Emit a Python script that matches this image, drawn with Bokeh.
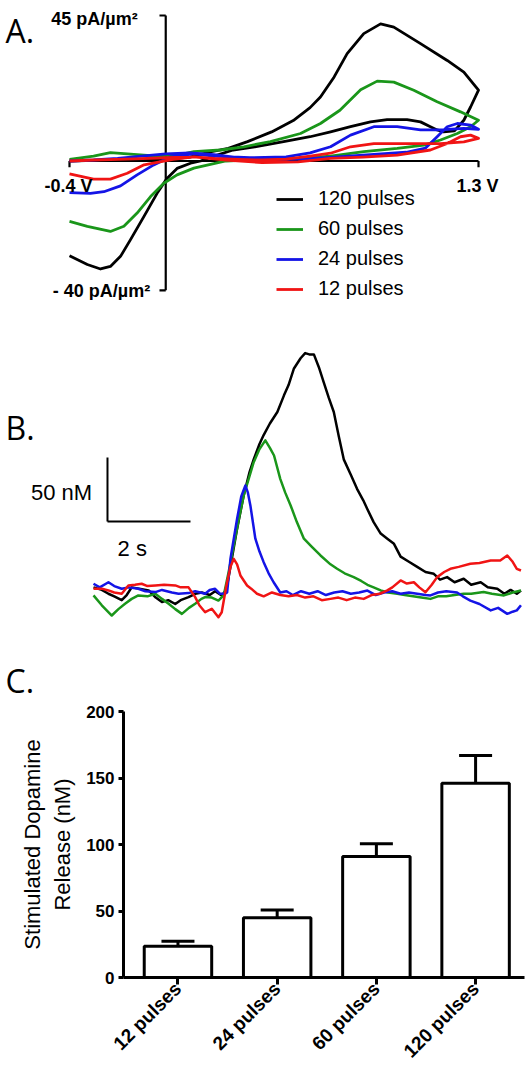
import math
from bokeh.plotting import figure
from bokeh.layouts import column
from bokeh.models import (Range1d, FixedTicker, Whisker, TeeHead, ColumnDataSource,
                          Legend, LegendItem)
from bokeh.core.properties import value
from bokeh.embed import file_html
from bokeh.resources import INLINE

FONT = "Liberation Sans"
LETTER_FONT = "Open Sans"

# ---------------- data ----------------
pulse_labels = ["120 pulses", "60 pulses", "24 pulses", "12 pulses"]
trace_colors = ["#000000", "#1a961a", "#1414e6", "#f01414"]

# Panel A: cyclic voltammograms (potential in V, current density in pA/um2)
cv_v_min, cv_v_max = -0.4, 1.3
cv_i_min, cv_i_max = -40, 45

cv120_v = [-0.4, -0.3, -0.2, -0.1, 0.0, 0.1, 0.19, 0.26, 0.34, 0.44, 0.53, 0.6, 0.643, 0.7, 0.754,
           0.823, 0.893, 0.948, 1.059, 1.17, 1.239, 1.3,
           1.267, 1.239, 1.2, 1.155, 1.128, 1.1, 1.059, 1.003, 0.92, 0.851, 0.768, 0.685, 0.6, 0.49,
           0.37, 0.28, 0.2, 0.145, 0.103, 0.047, 0.006, -0.036, -0.091, -0.147, -0.188, -0.23, -0.271,
           -0.326, -0.4]
cv120_i = [0.0, 0.2, 0.3, 0.3, 0.5, 1.2, 2.9, 3.9, 6.0, 9.0, 12.5, 16.5, 19.8, 26.0, 33.2,
           39.4, 42.4, 41.4, 36.3, 31.1, 27.5, 21.9,
           16.7, 12.6, 9.3, 9.0, 9.6, 10.6, 12.1, 12.8, 12.8, 12.1, 10.6, 9.0, 7.5, 6.0,
           4.4, 3.4, 1.5, 0.0, -0.7, -2.3, -5.3, -10.0, -17.2, -24.4, -29.5, -32.6, -33.4,
           -32.0, -29.3]

cv60_v = [-0.4, -0.3, -0.23, -0.16, -0.05, 0.05, 0.117, 0.228, 0.325, 0.435, 0.56, 0.643, 0.724,
          0.81, 0.879, 0.948, 1.031, 1.128, 1.225, 1.3,
          1.267, 1.212, 1.142, 1.073, 0.962, 0.823, 0.685, 0.55, 0.4, 0.25, 0.117, 0.047, -0.008,
          -0.063, -0.119, -0.174, -0.23, -0.326, -0.4]
cv60_i = [0.5, 1.5, 2.6, 2.2, 1.6, 1.8, 2.9, 3.4, 4.4, 6.0, 8.5, 11.6, 15.7,
          22.0, 24.7, 24.4, 21.9, 18.3, 15.2, 12.6,
          10.6, 8.5, 6.5, 4.9, 3.9, 2.9, 1.5, 0.8, 0.5, 0.0, -2.2, -4.3, -6.9,
          -11.0, -16.1, -20.2, -21.8, -20.2, -18.7]

cv24_v = [-0.4, -0.3, -0.2, -0.1, 0.0, 0.1, 0.2, 0.3, 0.4, 0.5, 0.6, 0.7, 0.85, 1.0, 1.08, 1.128,
          1.17, 1.212, 1.267, 1.3,
          1.239, 1.142, 1.059, 0.962, 0.865, 0.768, 0.685, 0.6, 0.5, 0.35, 0.2, 0.117, 0.02, -0.05,
          -0.119, -0.188, -0.257, -0.313, -0.4]
cv24_i = [0.0, 0.3, 0.8, 1.5, 2.2, 2.5, 2.0, 1.0, 0.5, 0.5, 0.7, 1.2, 2.0, 2.7, 4.0, 7.5,
          10.6, 11.6, 11.1, 9.8,
          10.1, 9.6, 9.6, 10.6, 10.6, 8.0, 4.4, 2.5, 1.3, 1.0, 1.5, 2.2, 1.3, -1.2,
          -4.3, -7.7, -9.5, -10.0, -9.8]

cv12_v = [-0.4, -0.3, -0.16, 0.0, 0.117, 0.25, 0.4, 0.55, 0.685, 0.82, 0.962, 1.1, 1.17, 1.225,
          1.267, 1.3,
          1.239, 1.142, 1.059, 0.962, 0.865, 0.768, 0.685, 0.6, 0.5, 0.4, 0.3, 0.2, 0.117, 0.03,
          -0.09, -0.16, -0.23, -0.3, -0.4]
cv12_i = [0.0, 0.3, 0.6, 1.0, 1.3, 0.3, -0.5, -0.3, 0.8, 1.2, 1.8, 3.4, 5.4, 7.5,
          8.0, 7.0,
          5.9, 5.4, 5.4, 5.4, 5.4, 4.4, 2.4, 1.5, 0.6, 0.3, 0.5, 0.8, 1.3, 0.5,
          -1.2, -3.8, -5.6, -5.6, -4.0]

# Panel B: dopamine concentration vs time (s, nM)
scale_bar_t = 2      # s
scale_bar_c = 50     # nM

t120 = [0.0, 0.2, 0.36, 0.5, 0.68, 0.8, 0.92, 1.1, 1.33, 1.5, 1.65, 1.8, 1.97, 2.1, 2.29, 2.45,
        2.61, 2.8, 2.93, 3.09, 3.2, 3.3, 3.45, 3.62, 3.76, 3.86, 4.0, 4.1, 4.25, 4.43, 4.59, 4.7,
        4.83, 4.99, 5.1, 5.2, 5.31, 5.43, 5.55, 5.67, 5.79, 5.91, 6.03, 6.2, 6.35, 6.5, 6.6, 6.75,
        6.92, 7.08, 7.24, 7.4, 7.6, 7.8, 8.0, 8.2, 8.35, 8.52, 8.7, 8.92, 9.1, 9.33, 9.5, 9.73,
        9.9, 10.05, 10.2, 10.3]
c120 = [4, 2, -1, -3, -6, -2, 4, 3, 1.6, -4, -7.5, -6, -9, -6, -3.6, -1,
        0, -2, 1, -2.3, 2, 20, 48, 76, 94, 104, 116, 123, 132, 141, 154, 162,
        175, 183, 187, 186, 186, 176, 164, 152, 141, 122, 104, 92, 81, 72, 65, 55,
        46, 42, 38, 28, 24, 20, 16, 14.6, 10, 12, 8, 10.7, 6, 8, 4, 3,
        -1, 2, -1, 1.6]

t60 = [0.0, 0.2, 0.44, 0.6, 0.76, 0.92, 1.08, 1.3, 1.49, 1.65, 1.81, 1.97, 2.13, 2.3, 2.45, 2.6,
       2.69, 2.85, 3.01, 3.14, 3.25, 3.38, 3.5, 3.62, 3.75, 3.86, 4.0, 4.14, 4.25, 4.35, 4.5, 4.62,
       4.75, 4.9, 5.07, 5.25, 5.47, 5.71, 5.87, 6.05, 6.27, 6.45, 6.6, 6.75, 6.92, 7.1, 7.32, 7.5,
       7.7, 7.9, 8.12, 8.3, 8.5, 8.7, 8.92, 9.1, 9.4, 9.6, 9.89, 10.1, 10.3]
c60 = [-2.3, -10, -18, -13, -8.8, -5, -2.3, -3, -1, -5, -8.8, -13, -16.7, -12, -8.8, -5,
       -3.6, -4, -6.3, -2, 15, 36.7, 57, 75.8, 90, 101.8, 112, 118.8, 113, 107, 88.8, 78,
       68, 55, 42, 36, 28.9, 22, 18.5, 15, 12, 9, 6, 4, 1.6, 0, -1, -2,
       -3, -4, -5, -3, -3, -2, -1, -1, 0.3, -1, -2.3, 0, 1.6]

t24 = [0.0, 0.15, 0.36, 0.5, 0.68, 0.85, 1.08, 1.25, 1.49, 1.65, 1.89, 2.05, 2.29, 2.45, 2.69, 2.8,
       2.93, 3.05, 3.17, 3.22, 3.3, 3.46, 3.56, 3.66, 3.72, 3.78, 3.9, 4.0, 4.1, 4.22, 4.34, 4.5,
       4.65, 4.8, 5.0, 5.2, 5.4, 5.6, 5.8, 6.0, 6.2, 6.4, 6.6, 6.8, 7.0, 7.2, 7.4, 7.6, 7.8, 8.0,
       8.12, 8.3, 8.5, 8.76, 8.9, 9.08, 9.3, 9.57, 9.75, 9.97, 10.1, 10.2, 10.3]
c24 = [6.8, 4, 8, 5, 2.9, 4, 2.9, 1, 0.3, 2, 0, -1, -0.5, 1, -1, 2,
       2.9, -1, -1, 0, 26.3, 57.6, 75, 83.6, 78, 68, 42, 32, 23.7, 15, 8, 0,
       1, -2, 1, -1, 1, -2, 0, 1, -1, 0, 1.5, -2, 0, 1, -1, 0, -1, -2,
       -2.3, 0, 1, 0, -3, -6.3, -9, -14, -12, -16.7, -15, -14, -10]

t12 = [0.0, 0.2, 0.36, 0.5, 0.68, 0.84, 1.0, 1.16, 1.3, 1.49, 1.7, 1.97, 2.1, 2.29, 2.45, 2.55,
       2.69, 2.85, 3.01, 3.09, 3.2, 3.3, 3.38, 3.46, 3.54, 3.7, 3.8, 3.94, 4.1, 4.3, 4.5, 4.7,
       4.9, 5.1, 5.3, 5.5, 5.71, 5.9, 6.1, 6.3, 6.51, 6.7, 6.9, 7.08, 7.2, 7.4, 7.55, 7.72, 7.85,
       8.0, 8.15, 8.28, 8.45, 8.6, 8.8, 9.08, 9.3, 9.57, 9.8, 9.97, 10.1, 10.2, 10.3]
c12 = [2.9, 3, 1.6, 0, -1, 5.5, 6, 6.8, 5, 5.5, 6, 5.5, 4, 4, -3.6, -10,
       -15.4, -12.7, -19.3, -15.4, 5, 20, 26.3, 22, 13.3, 5.5, 3, -1, -3, 0, -2, -3,
       -2, -4, -3, -6, -5, -4, -6, -4, -5, -2, -1, 1.6, 4, 9.4, 7, 8, 4,
       0.2, 6, 12, 16, 18.5, 20, 22.4, 23, 25, 25, 28.9, 24, 18.5, 17.2]

# Panel C: stimulated dopamine release (nM), mean and SEM
categories = ["12 pulses", "24 pulses", "60 pulses", "120 pulses"]
release_mean = [23.5, 45.0, 91.0, 146.0]
release_sem = [3.8, 5.8, 9.5, 21.0]
y_ticks = [0, 50, 100, 150, 200]

common = dict(output_backend="svg", toolbar_location=None, frame_align=False)

# ---------------- panel A ----------------
pa = figure(width=532, height=300, x_range=Range1d(-0.6868, 1.5244),
            y_range=Range1d(-43.15, 49.64), x_axis_location=None, y_axis_location=None,
            min_border=0, **common)
pa.xgrid.visible = False
pa.ygrid.visible = False
pa.outline_line_color = None

# drawn axes crossing at V = 0 and I = 0
pa.segment(x0=[cv_v_min, 0], y0=[0, cv_i_min], x1=[cv_v_max, 0], y1=[0, cv_i_max],
           line_color="black", line_width=2.2)
pa.segment(x0=[cv_v_min, cv_v_max, 0, 0], y0=[0, 0, cv_i_max, cv_i_min],
           x1=[cv_v_min, cv_v_max, -0.026, -0.026], y1=[-1.9, -1.9, cv_i_max, cv_i_min],
           line_color="black", line_width=2.2)

cv_v = [cv120_v, cv60_v, cv24_v, cv12_v]
cv_i = [cv120_i, cv60_i, cv24_i, cv12_i]
renderers = []
for v, i, col in zip(cv_v, cv_i, trace_colors):
    renderers.append(pa.line(v, i, line_color=col, line_width=2.8, line_join="round"))

legend = Legend(items=[LegendItem(label=lab, renderers=[r]) for lab, r in zip(pulse_labels, renderers)],
                location=(276, 0), glyph_width=27, glyph_height=20, label_height=20,
                label_standoff=15, spacing=7, padding=0, margin=0,
                border_line_color=None, background_fill_alpha=0,
                label_text_font=FONT, label_text_font_size="20px", label_text_color="black")
pa.add_layout(legend)

bold = dict(text_font=value(FONT), text_font_style="bold", text_font_size="18px",
            text_align="center", text_baseline="middle", text_color="black")
pa.text(x=[-0.296], y=[44], text=["45 pA/µm²"], **bold)
pa.text(x=[-0.267], y=[-40.2], text=["- 40 pA/µm²"], **bold)
pa.text(x=[-0.404], y=[-7.6], text=["-0.4 V"], **bold)
pa.text(x=[1.296], y=[-7.6], text=["1.3 V"], **bold)
pa.text(x=[-0.666], y=[40.4], text=["A."], text_font=value(LETTER_FONT), text_font_size="32px",
        text_align="left", text_baseline="alphabetic", text_color="black")

# ---------------- panel B ----------------
pb = figure(width=532, height=330, x_range=Range1d(-2.241, 10.578), y_range=Range1d(-29.7, 228.1),
            x_axis_location=None, y_axis_location=None, min_border=0, **common)
pb.xgrid.visible = False
pb.ygrid.visible = False
pb.outline_line_color = None

bar_t0, bar_c0 = 0.337, 55.5
pb.segment(x0=[bar_t0, bar_t0], y0=[bar_c0, bar_c0],
           x1=[bar_t0, bar_t0 + scale_bar_t], y1=[bar_c0 + scale_bar_c, bar_c0],
           line_color="black", line_width=2)
reg = dict(text_font=value(FONT), text_font_size="22px", text_baseline="middle", text_color="black")
pb.text(x=[-0.033], y=[78.1], text=[f"{scale_bar_c} nM"], text_align="right", **reg)
pb.text(x=[0.933], y=[34.4], text=[f"{scale_bar_t} s"], text_align="center", **reg)
pb.text(x=[-2.12], y=[129.1], text=["B."], text_font=value(LETTER_FONT), text_font_size="32px",
        text_align="left", text_baseline="alphabetic", text_color="black")

for t, c, col in zip([t120, t60, t24, t12], [c120, c60, c24, c12], trace_colors):
    pb.line(t, c, line_color=col, line_width=2.5, line_join="round")

# ---------------- panel C ----------------
bar_x = [k + 0.5 for k in range(len(categories))]
pc = figure(width=532, height=442, x_range=Range1d(-0.049, 3.993), y_range=Range1d(0, 200),
            min_border_left=123, min_border_right=8, min_border_top=81, min_border_bottom=93,
            title="C.", **common)
pc.xgrid.visible = False
pc.ygrid.visible = False
pc.outline_line_color = None
pc.title.text_font = LETTER_FONT
pc.title.text_font_size = "32px"
pc.title.text_font_style = "normal"
pc.title.text_color = "black"
pc.title.align = "left"
pc.title.offset = -118
pc.title.standoff = 19

src = ColumnDataSource(dict(x=bar_x, top=release_mean,
                            upper=[m + s for m, s in zip(release_mean, release_sem)]))
pc.vbar(x="x", top="top", bottom=0, width=0.68, source=src, fill_color="white",
        line_color="black", line_width=3)
pc.add_layout(Whisker(base="x", upper="upper", lower="top", source=src, dimension="height",
                      line_color="black", line_width=3, lower_head=None,
                      upper_head=TeeHead(size=33, line_color="black", line_width=3)))

ya = pc.yaxis[0]
ya.ticker = FixedTicker(ticks=y_ticks)
ya.bounds = (0, 200)
ya.axis_line_width = 3
ya.axis_line_color = "black"
ya.major_tick_line_width = 3
ya.major_tick_line_color = "black"
ya.major_tick_out = 5
ya.major_tick_in = 0
ya.minor_tick_line_color = None
ya.major_label_standoff = 4
ya.major_label_text_font = FONT
ya.major_label_text_font_style = "bold"
ya.major_label_text_font_size = "17px"
ya.major_label_text_color = "black"
ya.axis_label = "Stimulated Dopamine\nRelease (nM)"
ya.axis_label_text_font = FONT
ya.axis_label_text_font_style = "normal"
ya.axis_label_text_font_size = "22px"
ya.axis_label_text_color = "black"
ya.axis_label_standoff = 8

xa = pc.xaxis[0]
xa.ticker = FixedTicker(ticks=bar_x)
xa.major_label_overrides = {x: lab for x, lab in zip(bar_x, categories)}
xa.major_label_orientation = math.pi / 4
xa.axis_line_width = 3
xa.axis_line_color = "black"
xa.major_tick_line_width = 3
xa.major_tick_line_color = "black"
xa.major_tick_out = 7
xa.major_tick_in = 0
xa.minor_tick_line_color = None
xa.major_label_standoff = 1
xa.major_label_text_font = FONT
xa.major_label_text_font_style = "bold"
xa.major_label_text_font_size = "19px"
xa.major_label_text_color = "black"

layout = column(pa, pb, pc, spacing=0)
open("out.html", "w").write(file_html(layout, INLINE))
